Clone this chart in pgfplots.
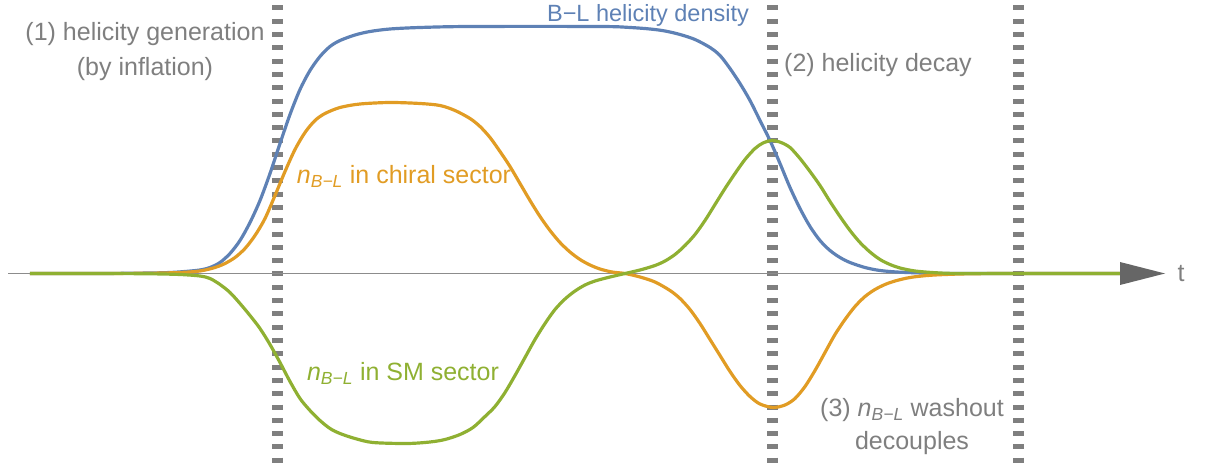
\documentclass[border=0pt]{standalone}
\usepackage{pgfplots}
\pgfplotsset{compat=1.18}
\usepackage{fontspec}
\setmainfont{Liberation Sans}

\definecolor{mblue}{HTML}{5E81B5}
\definecolor{morange}{HTML}{E19C24}
\definecolor{mgreen}{HTML}{8FB032}
\definecolor{mgray}{HTML}{7F7F7F}

\newcommand{\nBL}{\textit{n}\textsubscript{\textit{B−L}}}

\begin{document}
\begin{tikzpicture}
\begin{axis}[
    width=1205bp, height=471bp, scale only axis,
    xmin=0, xmax=1205, ymin=-198, ymax=273,
    hide axis, clip=false,
    every axis plot/.append style={line width=3.2pt, no markers},
    font=\fontsize{25bp}{35bp}\selectfont]
  \path (rel axis cs:0,0) rectangle (rel axis cs:1,1);

  % stage boundaries
  \foreach \xx in {277,772,1018} {
    \edef\temp{\noexpand\draw[mgray, line width=11bp, dash pattern=on 5bp off 8.3bp]
      (axis cs:\xx,268) -- (axis cs:\xx,-195);}
    \temp
  }

  % time axis
  \draw[color=gray!90, line width=1.4pt] (axis cs:8,0) -- (axis cs:1125,0);

  % B-L helicity density
  \addplot[mblue, smooth] coordinates {
    (30,0) (100,0) (150,0.5) (170,1) (185,2) (200,3.5) (210,6) (220,11)
    (230,20) (240,33) (250,51) (260,73) (270,100) (280,130) (290,159)
    (300,184) (310,203) (320,217) (330,227) (340,233) (355,238.5) (370,242)
    (390,244.5) (420,246) (470,247) (600,247) (630,246) (650,244.5)
    (665,242.5) (680,239) (695,234) (710,226) (720,218) (730,205) (740,190)
    (750,173) (760,153) (770,133) (780,110) (790,86) (800,65) (810,47)
    (820,33) (830,23) (840,16) (850,11) (865,6) (880,3) (900,1.3) (930,0.3)
    (960,0) (1050,0) (1125,0)};

  % n_{B-L} in chiral sector
  \addplot[morange, smooth] coordinates {
    (30,0) (100,0) (150,0.3) (180,1) (200,2.5) (215,6) (225,10) (235,16)
    (245,25) (255,38) (265,55) (275,78) (285,102) (295,124) (305,141)
    (315,153) (325,160) (340,166) (360,169.5) (390,171) (420,170) (440,168)
    (455,163) (470,155) (480,147) (490,136) (500,122) (510,107) (520,90)
    (530,73) (540,57) (550,43) (560,31) (570,21.5) (580,14) (590,8.5)
    (600,4.5) (612,1.5) (625,0) (640,-3.5) (655,-8.5) (670,-17) (680,-25)
    (690,-36) (700,-50) (710,-66) (720,-82) (730,-98) (740,-112) (750,-123)
    (760,-130.5) (773,-134) (785,-131.5) (795,-125) (805,-113) (815,-97)
    (825,-79) (835,-61) (845,-46) (855,-33) (865,-23) (875,-16) (885,-11)
    (895,-7.5) (910,-4) (930,-1.8) (960,-0.5) (1000,0) (1060,0) (1125,0)};

  % n_{B-L} in SM sector
  \addplot[mgreen, smooth] coordinates {
    (30,0) (100,0) (150,-0.3) (180,-1) (200,-2.5) (210,-5) (220,-11)
    (230,-19) (240,-30) (250,-42) (260,-55) (270,-71) (280,-89) (290,-108)
    (300,-125) (310,-137) (320,-147) (330,-155) (340,-160) (355,-165)
    (373,-169) (407,-170) (430,-168.5) (445,-166) (460,-161) (473,-154)
    (485,-143) (495,-133) (505,-119) (515,-102) (525,-84) (535,-66)
    (545,-50) (555,-36) (565,-25.5) (575,-17.5) (585,-11.5) (595,-7.5)
    (610,-3.5) (625,0) (640,3.5) (655,8) (665,12.5) (675,19) (685,28)
    (695,39) (705,53) (715,69) (725,85) (735,100) (745,114) (755,125)
    (763,130.5) (772,133) (781,131) (790,126) (800,115) (810,102) (820,88)
    (830,72) (840,57) (850,43) (860,31) (870,21.5) (880,14) (890,9)
    (900,5.5) (915,2.5) (935,0.8) (960,0) (1040,0) (1125,0)};

  \fill[gray!80!black] (axis cs:1120,11.5) -- (axis cs:1165,0) -- (axis cs:1120,-11.5) -- cycle;
  \node[mgray, anchor=west] at (axis cs:1174,0) {t};

  % labels
  \node[mgray, align=center] at (axis cs:145,221.5) {(1) helicity generation\\(by inflation)};
  \node[mblue, font=\fontsize{23.5bp}{30bp}\selectfont] at (axis cs:648,258) {B−L helicity density};
  \node[mgray] at (axis cs:878,208) {(2) helicity decay};
  \node[morange] at (axis cs:404,97) {\nBL{} in chiral sector};
  \node[mgreen] at (axis cs:403,-100) {\nBL{} in SM sector};
  \node[mgray, align=center, font=\fontsize{25bp}{33bp}\selectfont] at (axis cs:912,-153.5) {(3) \nBL{} washout\\decouples};
\end{axis}
\end{tikzpicture}
\end{document}
